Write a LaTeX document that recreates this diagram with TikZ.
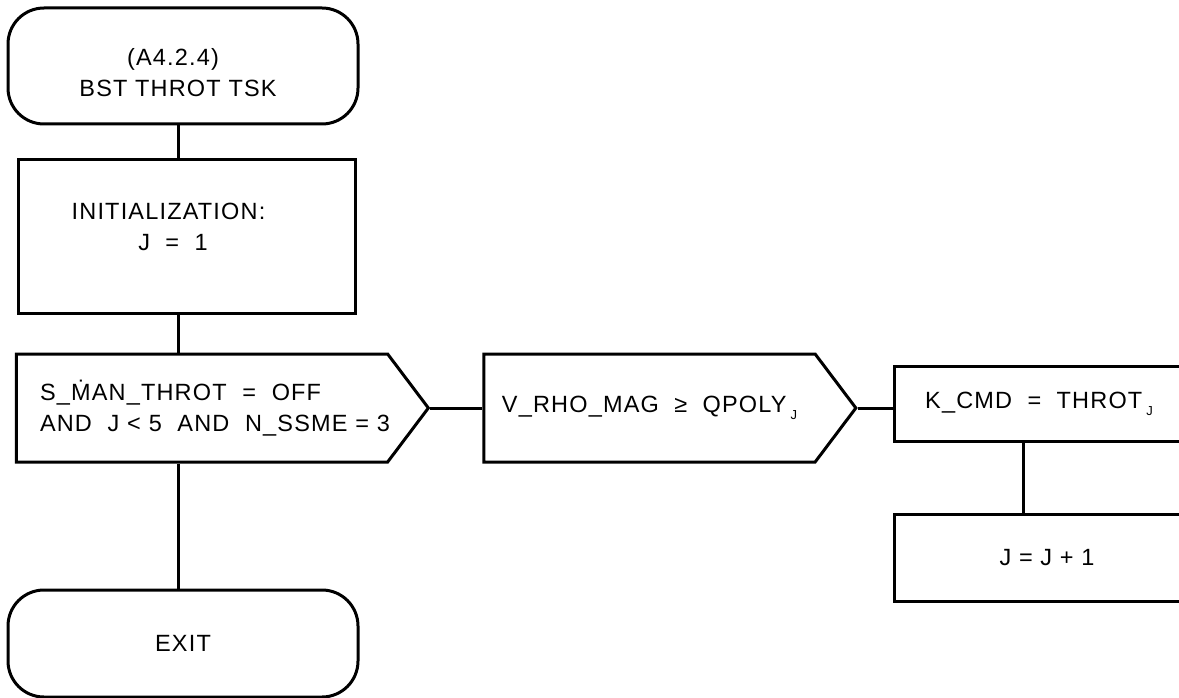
\documentclass[tikz,border=0pt]{standalone}
\usepackage{fontspec}
\setmainfont{Liberation Sans}[LetterSpace=5]
\usetikzlibrary{shapes.symbols}
\newcommand{\subj}{\,\raisebox{-7pt}{\fontsize{13}{13}\selectfont J}}

\begin{document}
\begin{tikzpicture}[x=1pt, y=-1pt,
    font=\fontsize{23.5}{31}\selectfont,
    term/.style={draw, rounded corners=36pt, minimum width=350pt,
                 minimum height=116pt, align=center},
    proc/.style={draw, minimum width=337pt, minimum height=153pt, align=center},
    dec/.style={draw, shape=signal, signal to=east, signal pointer angle=106,
                minimum width=412pt, minimum height=108pt, align=left},
    link/.style={line width=3pt},
    every node/.style={line width=3pt}
]
    \useasboundingbox (0,0) rectangle (1179,698);
    \clip (0,0) rectangle (1179,698);

    \coordinate (spine) at (178,0);
    \coordinate (rspine) at (1023,0);

    \node[term] (start) at (183,66)
        {\rule{0pt}{31pt}(A4.2.4)\hspace*{20pt}\\BST THROT TSK\hspace*{10pt}};
    \node[proc, text depth=20pt] (init) at (186.5,236.5)
        {INITIALIZATION:\hspace*{36pt}\\J~~=~~1\hspace*{27pt}};
    \node[dec, text width=324pt] (cond) at (202,408)
        {\mbox{S\_ṀAN\_THROT~~=~~OFF}\\\mbox{AND~~J < 5~~AND~~N\_SSME = 3}};
    \node[dec, minimum width=372pt, align=center] (test) at (649.5,408)
        {V\_RHO\_MAG~~≥~~QPOLY\subj};
    \node[proc, minimum width=290pt, minimum height=75pt] (kcmd) at (1039,403.5)
        {K\_CMD~~=~~THROT\subj};
    \node[proc, minimum width=306pt, minimum height=87pt] (incr) at (1047,557.5)
        {J = J + 1};
    \node[term, minimum height=107pt] (exit) at (183,643.5) {EXIT};

    \draw[link] (start.south -| spine) -- (init.north -| spine);
    \draw[link] (init.south -| spine) -- (cond.north -| spine);
    \draw[link] (cond.south -| spine) -- (exit.north -| spine);
    \draw[link] (cond.east) -- (test.west);
    \draw[link] (test.east) -- (kcmd.west |- test.east);
    \draw[link] (kcmd.south -| rspine) -- (incr.north -| rspine);
\end{tikzpicture}
\end{document}
